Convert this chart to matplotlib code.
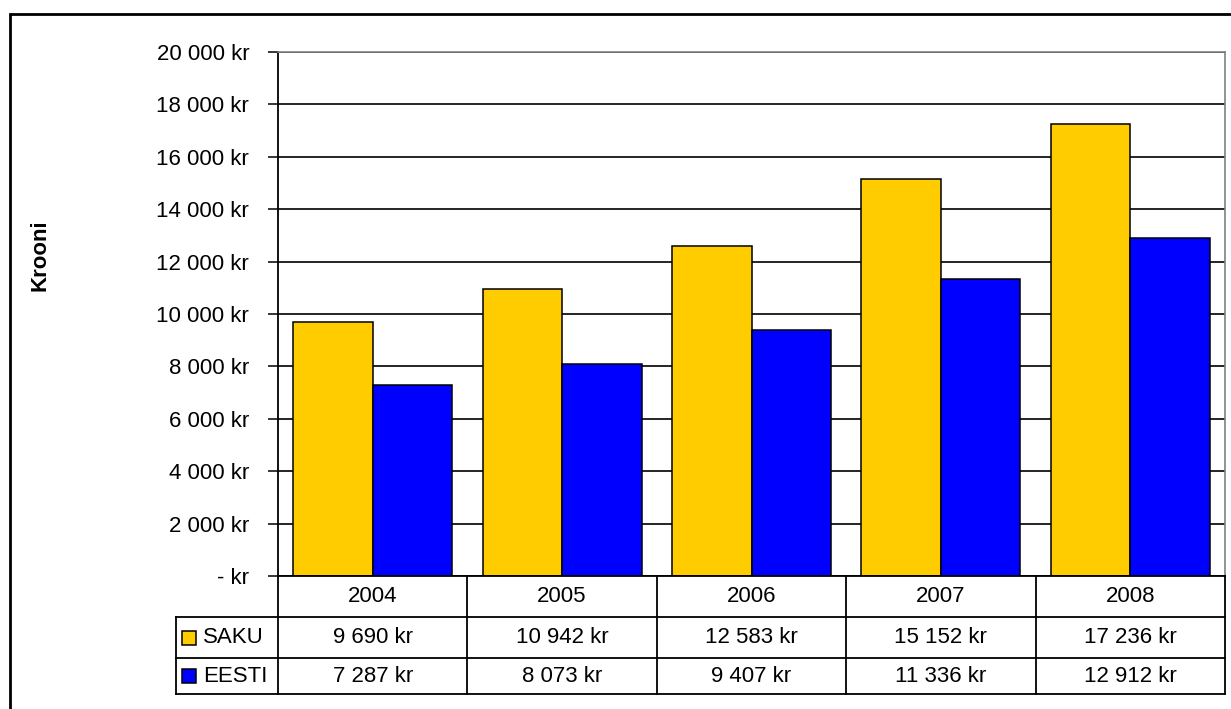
import matplotlib.pyplot as plt
from matplotlib.patches import Rectangle
from matplotlib.ticker import FuncFormatter, MultipleLocator

# data
years = ['2004', '2005', '2006', '2007', '2008']
saku = [9690, 10942, 12583, 15152, 17236]
eesti = [7287, 8073, 9407, 11336, 12912]
series_names = ['SAKU', 'EESTI']
series_colors = ['#FFCC00', '#0000FF']


def kr(v, pos=None):
    if v == 0:
        return '- kr'
    return f'{int(round(v)):,} kr'.replace(',', ' ')


plt.rcParams['font.family'] = ['Liberation Sans', 'DejaVu Sans']
W, H = 1231, 709
fig = plt.figure(figsize=(W / 100, H / 100), dpi=100)


def fx(p):
    return p / W


def fy(p):
    return 1 - p / H


# outer chart border (right and bottom edges fall outside the picture)
fig.patches.append(Rectangle((fx(10), fy(740)), fx(1260) - fx(10), fy(14) - fy(740),
                             transform=fig.transFigure, fill=False,
                             edgecolor='black', linewidth=2))

# bar chart
ax = fig.add_axes([fx(278), fy(576), fx(1225) - fx(278), fy(52) - fy(576)])
xs = list(range(len(years)))
bw = 0.42
ax.bar([i - bw / 2 for i in xs], saku, bw, color=series_colors[0],
       edgecolor='black', linewidth=1.1, zorder=2)
ax.bar([i + bw / 2 for i in xs], eesti, bw, color=series_colors[1],
       edgecolor='black', linewidth=1.1, zorder=2)
ax.set_xlim(-0.5, len(years) - 0.5)
ax.set_ylim(0, 20000)
ax.yaxis.set_major_locator(MultipleLocator(2000))
ax.yaxis.set_major_formatter(FuncFormatter(kr))
ax.grid(axis='y', color='black', linewidth=1.2)
ax.set_axisbelow(True)
ax.set_xticks([])
ax.tick_params(axis='y', length=7.2, width=1.1, pad=13.5, labelsize=16)
ax.spines['left'].set_color('black')
ax.spines['left'].set_linewidth(1.3)
ax.spines['bottom'].set_color('black')
ax.spines['bottom'].set_linewidth(1.3)
ax.spines['top'].set_color('#808080')
ax.spines['right'].set_color('#808080')
ax.spines['top'].set_linewidth(1.2)
ax.spines['right'].set_linewidth(1.2)

fig.text(fx(40), fy(255), 'Krooni', rotation=90, fontsize=16, fontweight='bold',
         ha='center', va='center')

# data table under the chart
leg_w = (278 - 176) / ((1225 - 278) / len(years))
tax = fig.add_axes([fx(176), fy(694), fx(1225) - fx(176), fy(576) - fy(694)])
x0 = -0.5 - leg_w
x_end = len(years) - 0.5
tax.set_xlim(x0, x_end)
tax.set_ylim(118, 0)
tax.axis('off')
rows = [0, 41, 82, 118]
lk = dict(color='black', linewidth=1.3, clip_on=False)
for r in rows[1:]:
    tax.plot([x0, x_end], [r, r], **lk)
for i in range(len(years) + 1):
    tax.plot([i - 0.5, i - 0.5], [rows[0], rows[-1]], **lk)
tax.plot([x0, x0], [rows[1], rows[-1]], **lk)

for i, yr in enumerate(years):
    tax.text(i, (rows[0] + rows[1]) / 2, yr, ha='center', va='center', fontsize=16)
for k, vals in enumerate([saku, eesti]):
    yc = (rows[k + 1] + rows[k + 2]) / 2
    for i, v in enumerate(vals):
        tax.text(i, yc, kr(v), ha='center', va='center', fontsize=16)
    tax.plot([x0 + 13 / 189.4], [yc], marker='s', markersize=9.5,
             markerfacecolor=series_colors[k], markeredgecolor='black',
             markeredgewidth=1.1, clip_on=False)
    tax.text(x0 + 27 / 189.4, yc, series_names[k], ha='left', va='center', fontsize=16)

fig.savefig('out.png', dpi=100)
